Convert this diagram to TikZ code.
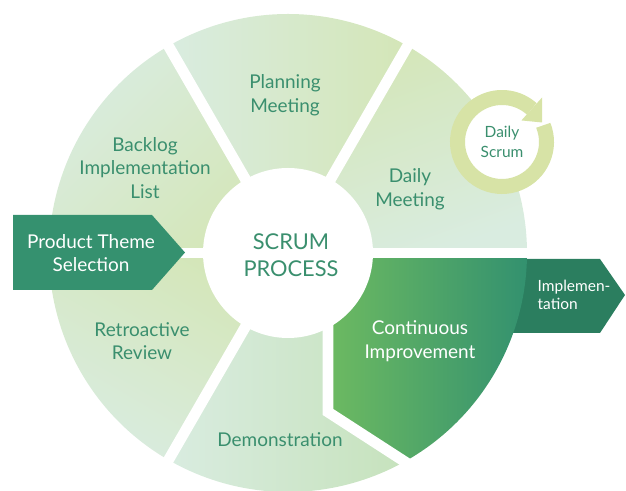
\documentclass[tikz,border=0pt]{standalone}
\usepackage{fontspec}
\setmainfont{Lato}
\usetikzlibrary{positioning}
\definecolor{mint}{HTML}{D9ECE0}
\definecolor{leaf}{HTML}{D4E6B7}
\definecolor{demor}{HTML}{C6E2BC}
\definecolor{cileft}{HTML}{6DBA61}
\definecolor{ciright}{HTML}{33916F}
\definecolor{theme}{HTML}{35916F}
\definecolor{impl}{HTML}{2B7E5F}
\definecolor{txt}{HTML}{3A8F6E}
\definecolor{scrumring}{HTML}{D7E3A6}
\tikzset{gap/.style={draw=white,line width=0.27cm},lab/.style={text=txt,align=center,font=\fontsize{13.5}{16.8}\selectfont},tag/.style={text=white,align=center,font=\fontsize{13.5}{16.8}\selectfont}}

\begin{document}
\begin{tikzpicture}[x=0.025cm,y=0.025cm]
\useasboundingbox (0,0) rectangle (626,491);
\coordinate (o) at (288,238);
\coordinate (ds) at (502,349);
% implementation tag sits behind the ring
\fill[impl] (505,232)--(600,232)--(625,196)--(600,158)--(505,158)--cycle;
% ring segments
\shade[left color=mint,right color=leaf] (o)--++(60:239) arc[start angle=60,end angle=120,radius=239]--cycle;
\shade[top color=mint,bottom color=leaf,shading angle=45] (o)--++(120:239) arc[start angle=120,end angle=180,radius=239]--cycle;
\shade[top color=leaf,bottom color=mint,shading angle=-30] (o)--++(180:239) arc[start angle=180,end angle=240,radius=239]--cycle;
\shade[left color=mint,right color=demor] (o)--++(240:239) arc[start angle=240,end angle=300,radius=239]--cycle;
\shade[top color=leaf,bottom color=mint,shading angle=20] (o)--++(0:239) arc[start angle=0,end angle=60,radius=239]--cycle;
\shade[left color=cileft,right color=ciright] (328,238)--(328,79)--(407.5,31) arc[start angle=-60,end angle=0,radius=239]--cycle;
% white gaps
\foreach \a in {0,60,120,180,240}{\draw[gap] (o)--++(\a:250);}
\draw[gap] (328,238)--(328,79)--(430,13);
\fill[white] (o) circle (85);
% product theme tag
\fill[theme] (13,276)--(152,276)--(185,238.5)--(152,201)--(13,201)--cycle;
% daily scrum loop
\fill[white] (ds) circle (38);
\draw[scrumring,line width=0.375cm] (ds)++(22:44.5) arc[start angle=22,end angle=-312,radius=44.5];
\fill[scrumring] ([shift={(ds)}]48:29) -- ([shift={(ds)}]48:60) -- ([shift={(ds)}]26:44.5) -- cycle;
% labels
\node[lab,font=\fontsize{15.5}{19}\selectfont] (scrum) at (291,236) {SCRUM\\PROCESS};
\node[lab] (plan) at (285,396) {Planning\\Meeting};
\node[lab] (backlog) at (145,323) {Backlog\\Implementation\\List};
\node[lab] (daily) at (410,302) {Daily\\Meeting};
\node[lab] (retro) at (142,150) {Retroactive\\Review};
\node[lab] (demo) at (280,51) {Demonstration};
\node[tag] (ci) at (420,150) {Continuous\\Improvement};
\node[tag] (theme) at (91,238) {Product Theme\\Selection};
\node[tag,align=left,font=\fontsize{11}{13}\selectfont] (impl) at (574,196) {Implemen-\\tation};
\node[lab,font=\fontsize{11}{14}\selectfont] (dscrum) at (ds) {Daily\\Scrum};
\end{tikzpicture}
\end{document}
